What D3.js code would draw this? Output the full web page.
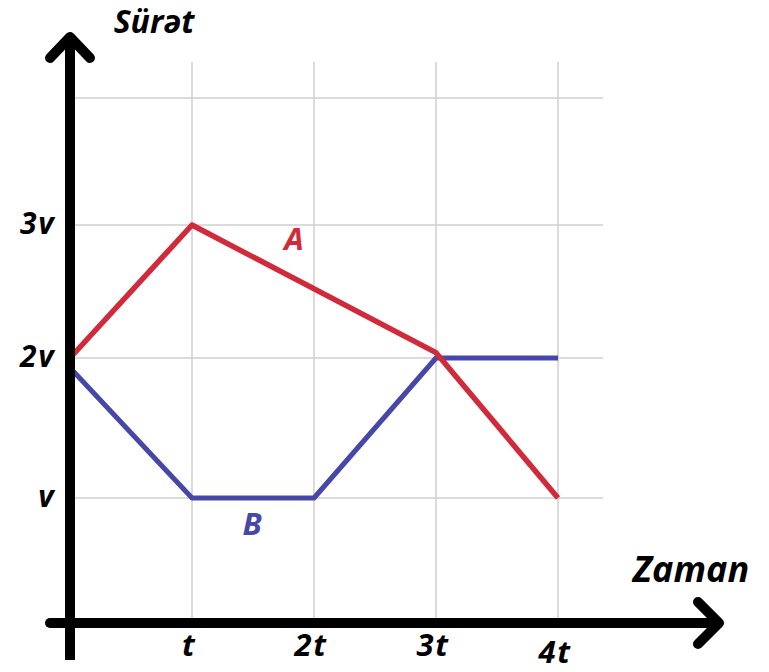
<!DOCTYPE html>
<html>
<head>
<meta charset="utf-8">
<script src="https://cdn.jsdelivr.net/npm/d3@7"></script>
<style>
  html, body { margin: 0; padding: 0; background: #fff; }
  svg { display: block; }
  .lbl { font-family: "Open Sans", "Noto Sans", sans-serif; font-weight: 700; font-style: italic; }
</style>
</head>
<body>
<div id="chart"></div>
<script>
const xTicks = [1, 2, 3, 4];
const xTickLabels = ['t', '2t', '3t', '4t'];
const yTicks = [1, 2, 3];
const yTickLabels = ['v', '2v', '3v'];
const gridY = [1, 2, 3, 4];

// speed in units of v, time in units of t
const seriesA = [[0, 2], [1, 3], [3, 2.04], [4, 1]];
const seriesB = [[0, 1.93], [1, 1], [2, 1], [3, 2], [4, 2]];

const width = 769;
const height = 672;

const svg = d3.select('#chart').append('svg')
  .attr('width', width)
  .attr('height', height);

const x = d3.scaleLinear().domain([0, 4]).range([70, 558]);
const y = d3.scaleLinear().domain([0, 1, 2, 3, 4]).range([623, 498, 358, 225, 98]);

// grid
const grid = svg.append('g').attr('stroke', '#cfcfcf').attr('stroke-width', 1.5);
grid.selectAll('line.v').data(xTicks).join('line')
  .attr('class', 'v')
  .attr('x1', (d) => x(d)).attr('x2', (d) => x(d))
  .attr('y1', 62).attr('y2', y(0));
grid.selectAll('line.h').data(gridY).join('line')
  .attr('class', 'h')
  .attr('x1', x(0) + 5).attr('x2', 603)
  .attr('y1', (d) => y(d)).attr('y2', (d) => y(d));

// series
const line = d3.line().x((d) => x(d[0])).y((d) => y(d[1]));
svg.append('path').datum(seriesB)
  .attr('d', line).attr('fill', 'none')
  .attr('stroke', '#4747a8').attr('stroke-width', 5).attr('stroke-linejoin', 'round');
svg.append('path').datum(seriesA)
  .attr('d', line).attr('fill', 'none')
  .attr('stroke', '#d12a3a').attr('stroke-width', 5.5).attr('stroke-linejoin', 'round');

// axes with arrows
const axes = svg.append('g').attr('stroke', '#000').attr('stroke-width', 10)
  .attr('stroke-linecap', 'round').attr('stroke-linejoin', 'round').attr('fill', 'none');
axes.append('line').attr('x1', x(0)).attr('x2', x(0)).attr('y1', 660).attr('y2', 36).attr('stroke-linecap', 'butt');
axes.append('path').attr('d', `M${x(0) - 20},${58} L${x(0)},${37} L${x(0) + 20},${58}`);
axes.append('line').attr('x1', 50).attr('x2', 718).attr('y1', y(0)).attr('y2', y(0));
axes.append('path').attr('d', `M${698},${y(0) - 21} L${719},${y(0)} L${698},${y(0) + 21}`);

// tick labels
svg.selectAll('text.yt').data(yTicks).join('text')
  .attr('class', 'lbl yt')
  .attr('x', 55).attr('y', (d) => y(d) + 9)
  .attr('text-anchor', 'end')
  .attr('font-size', 30)
  .attr('letter-spacing', 1.5)
  .text((d, i) => yTickLabels[i]);

svg.selectAll('text.xt').data(xTicks).join('text')
  .attr('class', 'lbl xt')
  .attr('x', (d) => x(d) - 3).attr('y', (d) => (d === 4 ? 663 : 656))
  .attr('text-anchor', 'middle')
  .attr('font-size', 31)
  .attr('letter-spacing', 1.5)
  .text((d, i) => xTickLabels[i]);

// axis titles
svg.append('text').attr('class', 'lbl').attr('x', 154).attr('y', 33)
  .attr('text-anchor', 'middle').attr('font-size', 32).text('Sürət');
svg.append('text').attr('class', 'lbl').attr('x', 691).attr('y', 582)
  .attr('text-anchor', 'middle').attr('font-size', 36).text('Zaman');

// series labels
svg.append('text').attr('class', 'lbl').attr('x', 294).attr('y', 250)
  .attr('text-anchor', 'middle').attr('font-size', 31).attr('fill', '#d12a3a').text('A');
svg.append('text').attr('class', 'lbl').attr('x', 252).attr('y', 535)
  .attr('text-anchor', 'middle').attr('font-size', 31).attr('fill', '#4747a8').text('B');
</script>
</body>
</html>
